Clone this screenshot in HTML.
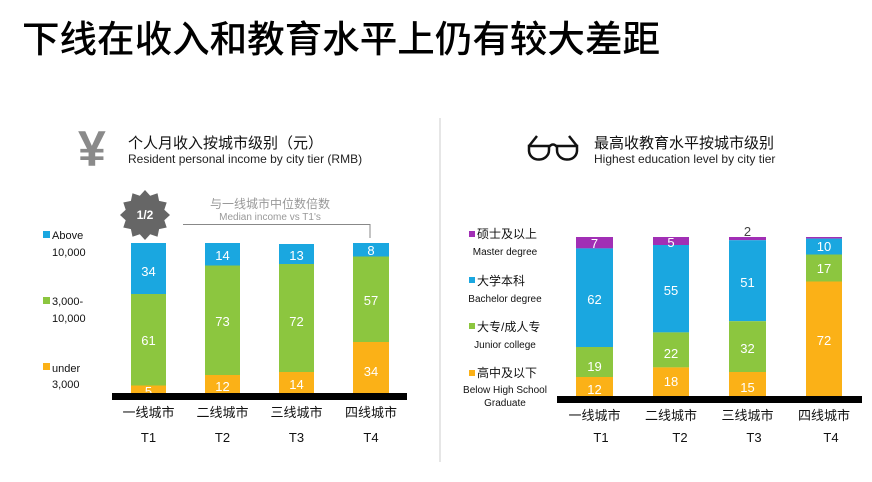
<!DOCTYPE html>
<html><head><meta charset="utf-8"><style>
html,body{margin:0;padding:0;background:#fff;}
svg{display:block;font-family:"Liberation Sans","Noto Sans CJK SC",sans-serif;}
</style></head><body>
<svg width="872" height="482" viewBox="0 0 872 482" xmlns="http://www.w3.org/2000/svg">
<rect width="872" height="482" fill="#fff"/>
<text x="22" y="52" font-size="37" fill="#000" font-family="'Noto Sans CJK SC',sans-serif" font-weight="500" textLength="638" lengthAdjust="spacingAndGlyphs">下线在收入和教育水平上仍有较大差距</text>
<line x1="440" y1="118" x2="440" y2="462" stroke="#ddd" stroke-width="1.5"/>

<!-- Left header -->
<text x="78" y="166" font-size="50" fill="#8a8a8a" font-weight="bold">¥</text>
<text x="128" y="148" font-size="15" fill="#111">个人月收入按城市级别（元）</text>
<text x="128" y="163" font-size="12" fill="#222">Resident personal income by city tier (RMB)</text>

<!-- badge -->
<g transform="translate(145,215)">
<polygon fill="#666" points="25,0 19.3,5.2 21.7,12.5 14.1,14.1 12.5,21.7 5.2,19.3 0,25 -5.2,19.3 -12.5,21.7 -14.1,14.1 -21.7,12.5 -19.3,5.2 -25,0 -19.3,-5.2 -21.7,-12.5 -14.1,-14.1 -12.5,-21.7 -5.2,-19.3 0,-25 5.2,-19.3 12.5,-21.7 14.1,-14.1 21.7,-12.5 19.3,-5.2"/>
<text x="0" y="4" font-size="12" fill="#fff" text-anchor="middle" font-weight="bold">1/2</text>
</g>
<text x="270" y="208" font-size="12" fill="#999" text-anchor="middle">与一线城市中位数倍数</text>
<text x="270" y="220" font-size="10" fill="#999" text-anchor="middle">Median income vs T1's</text>
<polyline points="183,224.5 370,224.5 370,238" fill="none" stroke="#888" stroke-width="1"/>

<!-- left legend -->
<g font-size="11" fill="#111">
<rect x="43" y="231" width="7" height="7" fill="#1aa7e0"/><text x="52" y="239">Above</text><text x="52" y="256">10,000</text>
<rect x="43" y="297" width="7" height="7" fill="#8cc63f"/><text x="52" y="305">3,000-</text><text x="52" y="322">10,000</text>
<rect x="43" y="363" width="7" height="7" fill="#fbb117"/><text x="52" y="372">under</text><text x="52" y="388">3,000</text>
</g>

<!-- left bars -->
<g>
<rect x="131" y="243" width="35" height="51" fill="#1aa7e0"/>
<rect x="131" y="294" width="35" height="91.5" fill="#8cc63f"/>
<rect x="131" y="385.5" width="35" height="7.5" fill="#fbb117"/>
<rect x="205" y="243" width="35" height="22.5" fill="#1aa7e0"/>
<rect x="205" y="265.5" width="35" height="109.5" fill="#8cc63f"/>
<rect x="205" y="375" width="35" height="18" fill="#fbb117"/>
<rect x="279" y="244" width="35" height="20" fill="#1aa7e0"/>
<rect x="279" y="264" width="35" height="108" fill="#8cc63f"/>
<rect x="279" y="372" width="35" height="21" fill="#fbb117"/>
<rect x="353" y="243" width="36" height="13.5" fill="#1aa7e0"/>
<rect x="353" y="256.5" width="36" height="85.5" fill="#8cc63f"/>
<rect x="353" y="342" width="36" height="51" fill="#fbb117"/>
</g>
<g font-size="13" fill="#fff" text-anchor="middle">
<text x="148.5" y="276">34</text><text x="148.5" y="345">61</text><text x="148.5" y="396">5</text>
<text x="222.5" y="260">14</text><text x="222.5" y="326">73</text><text x="222.5" y="391">12</text>
<text x="296.5" y="260">13</text><text x="296.5" y="326">72</text><text x="296.5" y="389">14</text>
<text x="371" y="255">8</text><text x="371" y="305">57</text><text x="371" y="376">34</text>
</g>
<rect x="112" y="393" width="295" height="7" fill="#000"/>
<g font-size="13" fill="#111" text-anchor="middle">
<text x="148.5" y="417">一线城市</text><text x="222.5" y="417">二线城市</text><text x="296.5" y="417">三线城市</text><text x="371" y="417">四线城市</text>
<text x="148.5" y="442">T1</text><text x="222.5" y="442">T2</text><text x="296.5" y="442">T3</text><text x="371" y="442">T4</text>
</g>

<!-- Right header: glasses -->
<g fill="none" stroke="#111" stroke-width="2.5">
<path d="M529,146 L549,146 L549,150 C549,162 530,163 529,151 Z"/>
<path d="M557,146 L577,146 L577,151 C576,163 557,162 557,150 Z"/>
<path d="M549,147 Q553,142 557,147"/>
<path d="M529,146 L537,136 M577,146 L569,136"/>
</g>
<text x="594" y="148" font-size="15" fill="#111">最高收教育水平按城市级别</text>
<text x="594" y="163" font-size="12" fill="#222">Highest education level by city tier</text>

<!-- right legend -->
<g font-size="12" fill="#111">
<rect x="469" y="231" width="6" height="6" fill="#a12fb5"/><text x="477" y="238">硕士及以上</text>
<text x="505" y="255" font-size="10" text-anchor="middle">Master degree</text>
<rect x="469" y="277" width="6" height="6" fill="#1aa7e0"/><text x="477" y="285">大学本科</text>
<text x="505" y="302" font-size="10" text-anchor="middle">Bachelor degree</text>
<rect x="469" y="323" width="6" height="6" fill="#8cc63f"/><text x="477" y="331">大专/成人专</text>
<text x="505" y="348" font-size="10" text-anchor="middle">Junior college</text>
<rect x="469" y="370" width="6" height="6" fill="#fbb117"/><text x="477" y="377">高中及以下</text>
<text x="505" y="393" font-size="10" text-anchor="middle">Below High School</text>
<text x="505" y="406" font-size="10" text-anchor="middle">Graduate</text>
</g>

<!-- right bars -->
<g>
<rect x="576" y="237" width="37" height="11.4" fill="#a12fb5"/>
<rect x="576" y="248.4" width="37" height="98.6" fill="#1aa7e0"/>
<rect x="576" y="347" width="37" height="30" fill="#8cc63f"/>
<rect x="576" y="377" width="37" height="19" fill="#fbb117"/>
<rect x="653" y="237" width="36" height="8" fill="#a12fb5"/>
<rect x="653" y="245" width="36" height="87.4" fill="#1aa7e0"/>
<rect x="653" y="332.4" width="36" height="35" fill="#8cc63f"/>
<rect x="653" y="367.4" width="36" height="28.6" fill="#fbb117"/>
<rect x="729" y="237" width="37" height="3.2" fill="#a12fb5"/>
<rect x="729" y="240.2" width="37" height="81" fill="#1aa7e0"/>
<rect x="729" y="321.2" width="37" height="50.8" fill="#8cc63f"/>
<rect x="729" y="372" width="37" height="24" fill="#fbb117"/>
<rect x="806" y="237" width="36" height="1.6" fill="#a12fb5"/>
<rect x="806" y="238.6" width="36" height="15.9" fill="#1aa7e0"/>
<rect x="806" y="254.5" width="36" height="27" fill="#8cc63f"/>
<rect x="806" y="281.5" width="36" height="114.5" fill="#fbb117"/>
</g>
<g font-size="13" fill="#fff" text-anchor="middle">
<text x="594.5" y="248">7</text><text x="594.5" y="304">62</text><text x="594.5" y="371">19</text><text x="594.5" y="394">12</text>
<text x="671" y="247">5</text><text x="671" y="295">55</text><text x="671" y="358">22</text><text x="671" y="386">18</text>
<text x="747.5" y="287">51</text><text x="747.5" y="353">32</text><text x="747.5" y="392">15</text>
<text x="824" y="251">10</text><text x="824" y="273">17</text><text x="824" y="345">72</text>
</g>
<text x="747.5" y="236" font-size="13" fill="#444" text-anchor="middle">2</text>
<rect x="557" y="396" width="305" height="7" fill="#000"/>
<g font-size="13" fill="#111" text-anchor="middle">
<text x="594.5" y="420">一线城市</text><text x="671" y="420">二线城市</text><text x="747.5" y="420">三线城市</text><text x="824" y="420">四线城市</text>
<text x="601" y="442">T1</text><text x="680" y="442">T2</text><text x="754" y="442">T3</text><text x="831" y="442">T4</text>
</g>
</svg>
</body></html>
